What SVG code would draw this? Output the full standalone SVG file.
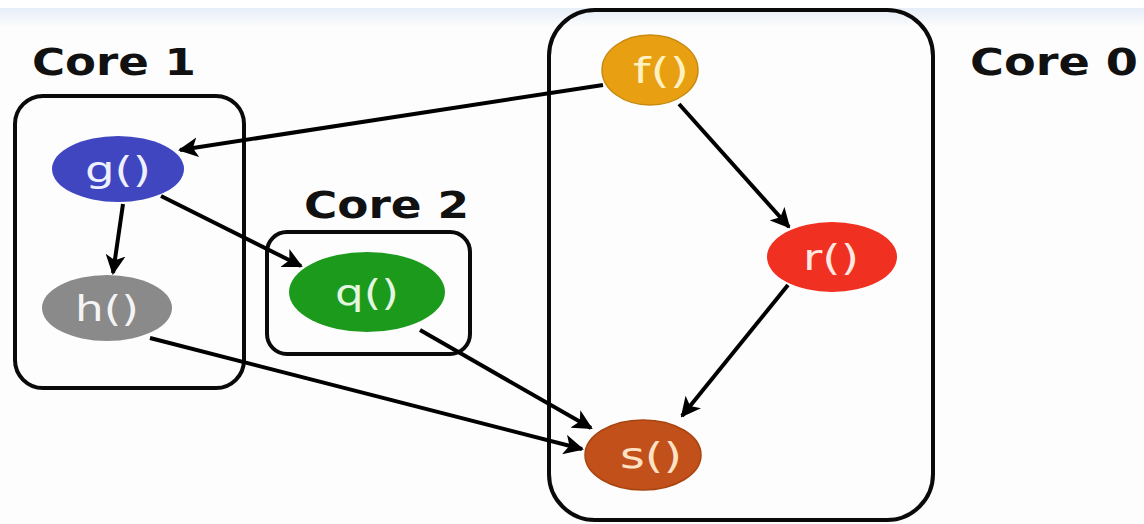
<svg xmlns="http://www.w3.org/2000/svg" width="1144" height="524" viewBox="0 0 1144 524">
  <defs>
    <linearGradient id="band" x1="0" y1="0" x2="0" y2="1">
      <stop offset="0" stop-color="#e6eef8"/>
      <stop offset="1" stop-color="#fdfdfd"/>
    </linearGradient>
    <marker id="arrow" viewBox="0 0 10 10" refX="9" refY="5" markerWidth="5" markerHeight="5" orient="auto" markerUnits="strokeWidth">
      <path d="M0,0 L10,5 L0,10 L2.5,5 z" fill="#000"/>
    </marker>
  </defs>
  <style>
    .core { fill: none; stroke: #0a0a0a; stroke-width: 4; }
    .label { font-family: "DejaVu Sans", Verdana, sans-serif; font-weight: bold; font-size: 37px; fill: #111; }
    .fn { font-family: "DejaVu Sans", Verdana, sans-serif; font-size: 36px; text-anchor: middle; }
    .edge { fill: none; stroke: #000; stroke-width: 4; marker-end: url(#arrow); }
  </style>

  <!-- page background -->
  <rect x="0" y="0" width="1144" height="524" fill="#fdfdfd"/>
  <rect x="0" y="0" width="1144" height="8" fill="#ffffff"/>
  <rect x="0" y="8" width="1144" height="20" fill="url(#band)"/>

  <!-- core containers -->
  <g id="core1">
    <rect class="core" x="15" y="96" width="229" height="292" rx="28"/>
    <text class="label" x="32" y="75" textLength="164" lengthAdjust="spacingAndGlyphs">Core 1</text>
  </g>
  <g id="core2">
    <rect class="core" x="267" y="232" width="203" height="122" rx="20"/>
    <text class="label" x="304" y="218" textLength="165" lengthAdjust="spacingAndGlyphs">Core 2</text>
  </g>
  <g id="core0">
    <rect class="core" x="549" y="10" width="384" height="510" rx="46"/>
    <text class="label" x="970" y="75" textLength="168" lengthAdjust="spacingAndGlyphs">Core 0</text>
  </g>

  <!-- connectors -->
  <g id="edges">
    <line class="edge" x1="603" y1="85" x2="180" y2="150"/>
    <line class="edge" x1="679" y1="104" x2="789" y2="227"/>
    <line class="edge" x1="123" y1="204" x2="113" y2="273"/>
    <line class="edge" x1="161" y1="196" x2="301" y2="266"/>
    <line class="edge" x1="150" y1="338" x2="582" y2="449"/>
    <line class="edge" x1="420" y1="330" x2="591" y2="428"/>
    <line class="edge" x1="788" y1="285" x2="682" y2="416"/>
  </g>

  <!-- function nodes -->
  <g id="node-g">
    <ellipse cx="118" cy="169" rx="66" ry="33" fill="#3f46c0"/>
    <text class="fn" x="118" y="182" fill="#eef0ff" textLength="66" lengthAdjust="spacingAndGlyphs">g()</text>
  </g>
  <g id="node-h">
    <ellipse cx="107" cy="308" rx="65" ry="33" fill="#8a8a8a"/>
    <text class="fn" x="107" y="321" fill="#f4f4f4" textLength="64" lengthAdjust="spacingAndGlyphs">h()</text>
  </g>
  <g id="node-q">
    <ellipse cx="367" cy="292" rx="78" ry="40" fill="#1c9a1c"/>
    <text class="fn" x="367" y="305" fill="#e4f6e0" textLength="64" lengthAdjust="spacingAndGlyphs">q()</text>
  </g>
  <g id="node-f">
    <ellipse cx="650" cy="70" rx="48" ry="35" fill="#e8a012" stroke="#c88a10" stroke-width="1.5"/>
    <text class="fn" x="661" y="83" fill="#fff2c0" textLength="56" lengthAdjust="spacingAndGlyphs">f()</text>
  </g>
  <g id="node-r">
    <ellipse cx="832" cy="257" rx="65" ry="35" fill="#f03020"/>
    <text class="fn" x="831" y="270" fill="#ffe8e0" textLength="56" lengthAdjust="spacingAndGlyphs">r()</text>
  </g>
  <g id="node-s">
    <ellipse cx="643" cy="455" rx="58" ry="35" fill="#c2501a" stroke="#a8440f" stroke-width="1.5"/>
    <text class="fn" x="651" y="468" fill="#fde2c4" textLength="62" lengthAdjust="spacingAndGlyphs">s()</text>
  </g>
</svg>
